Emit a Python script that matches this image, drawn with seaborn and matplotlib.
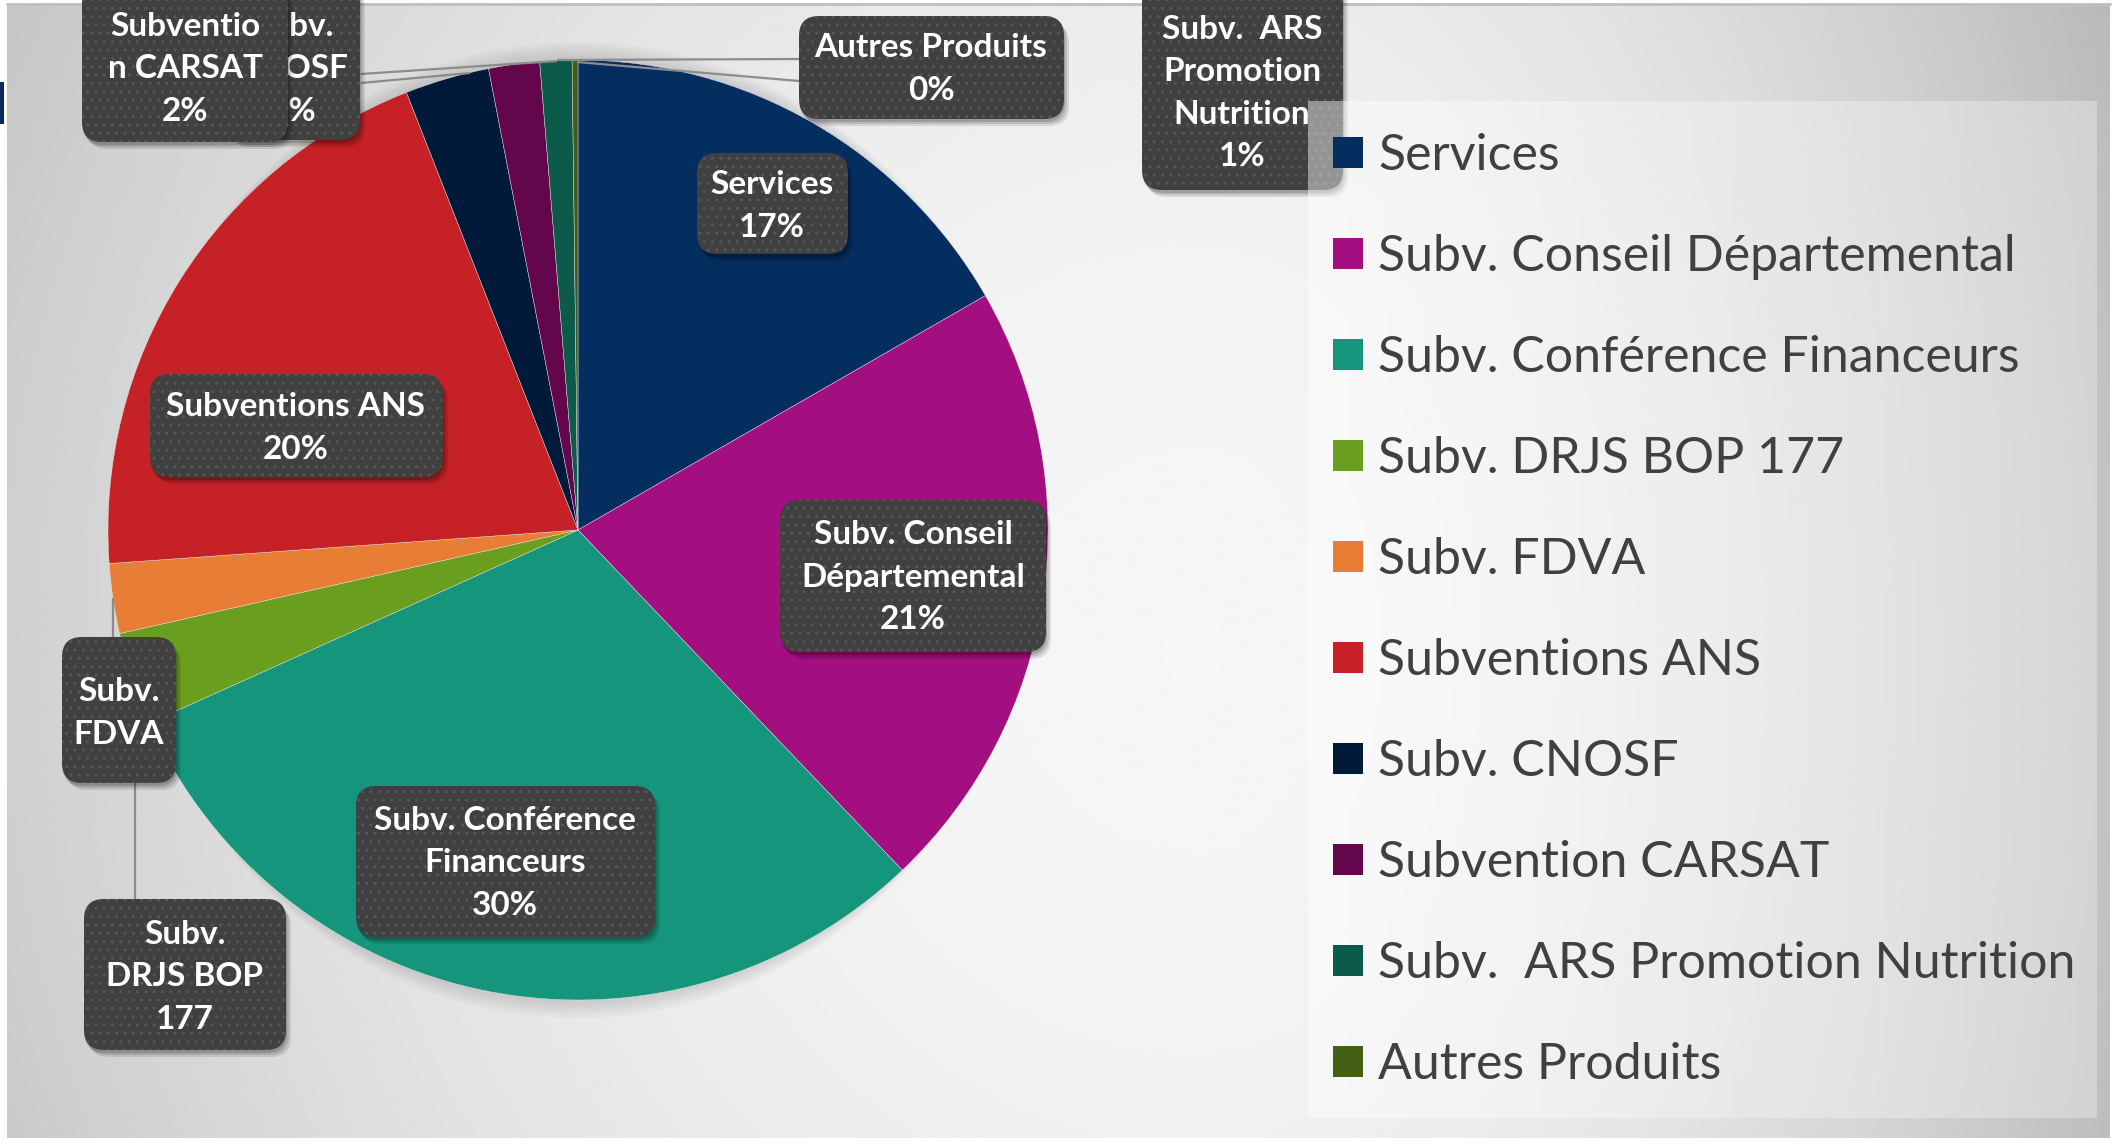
import matplotlib
matplotlib.use("Agg")
import matplotlib.pyplot as plt
import matplotlib.patches as mpatches
import seaborn as sns
import numpy as np

# --- data (share of total, %) ---
categories = [
    "Services",
    "Subv. Conseil Départemental",
    "Subv. Conférence Financeurs",
    "Subv. DRJS BOP 177",
    "Subv. FDVA",
    "Subventions ANS",
    "Subv. CNOSF",
    "Subvention CARSAT",
    "Subv.  ARS Promotion Nutrition",
    "Autres Produits",
]
shares = [16.7, 21.2, 30.4, 3.2, 2.4, 20.2, 2.9, 1.75, 1.1, 0.2]
slice_colors = ["#042D60", "#A30E80", "#15967C", "#6A9E1F", "#E87D36",
                "#C52126", "#021A3A", "#64064C", "#0C5B4A", "#425F13"]
# callout wording as it appears on the slide (some callouts lost their %)
callout_names = [
    "Services",
    "Subv. Conseil\nDépartemental",
    "Subv. Conférence\nFinanceurs",
    "Subv.\nDRJS BOP\n177",
    "Subv.\nFDVA",
    "Subventions ANS",
    "Subv.\nCNOSF",
    "Subventio\nn CARSAT",
    "Subv.  ARS\nPromotion\nNutrition",
    "Autres Produits",
]
show_pct = [True, True, True, False, False, True, True, True, True, True]

# --- layout (pixels, figure is 2116 x 1142) ---
W_PX, H_PX = 2116, 1142
PIE_CX, PIE_CY, PIE_R = 578, 530, 470
# callout boxes: x0, y0, x1, y1 (top-left origin)
callout_boxes = [
    (697, 153, 848, 254),
    (780, 500, 1046, 652),
    (356, 786, 655, 937),
    (84, 899, 286, 1050),
    (62, 637, 176, 783),
    (150, 374, 443, 477),
    (225, -20, 360, 140),
    (82, -20, 288, 142),
    (1142, -20, 1343, 190),
    (799, 16, 1064, 119),
]
callout_text_xy = [
    (772, 206), (913, 577), (505, 863), (185, 977), (119, 713),
    (296, 428), (293, 69), (185, 69), (1242, 93), (931, 69),
]
draw_order = [0, 1, 2, 5, 3, 4, 9, 8, 6, 7]
leader_lines = [
    ((361, 74), (557, 61)),
    ((361, 83), (470, 73)),
    ((799, 59), (557, 60)),
    ((799, 81), (577, 62)),
    ((113, 598), (113, 637)),
    ((135, 687), (135, 899)),
]

sns.set_theme(style="white")
plt.rcParams["font.family"] = ["Lato", "DejaVu Sans"]

fig = plt.figure(figsize=(W_PX / 100, H_PX / 100), dpi=100)
fig.patch.set_facecolor("white")

# background panel with soft grey gradient
bg = fig.add_axes([0, 0, 1, 1], zorder=0)
bg.set_xlim(0, W_PX)
bg.set_ylim(H_PX, 0)
bg.axis("off")
xs = np.linspace(7, 2110, 700)
ys = np.linspace(4, 1138, 380)
X, Y = np.meshgrid(xs, ys)
dx = X - 1200
grad = np.where(dx < 0, 0.965 - 0.15 * (dx / 1190) ** 2,
                0.965 - 0.20 * (dx / 910) ** 2)
grad = grad - 0.04 * ((Y - 650) / 650) ** 2
bg.imshow(grad, cmap="gray", vmin=0, vmax=1, extent=(7, 2110, 1138, 4),
          aspect="auto", interpolation="bilinear")
bg.plot([7, 2110], [4, 4], color="#BEBEBE", lw=2)
bg.add_patch(mpatches.Rectangle((0, 82), 4, 42, color="#0B2A5C", lw=0))
# faint soft shadow above / below the pie
for k in range(5):
    bg.add_patch(mpatches.Ellipse((PIE_CX, PIE_CY), 2 * PIE_R - 20,
                                  2 * PIE_R + 8 + 7 * k, color="black",
                                  alpha=0.025, lw=0))

# pie
pax = fig.add_axes([(PIE_CX - PIE_R) / W_PX, (H_PX - PIE_CY - PIE_R) / H_PX,
                    2 * PIE_R / W_PX, 2 * PIE_R / H_PX], zorder=1)
palette = sns.color_palette(slice_colors)
wedges, _ = pax.pie(shares, colors=palette, startangle=90, counterclock=False,
                    radius=1, wedgeprops=dict(edgecolor="#e6e6e6", linewidth=0.3))
pax.set_xlim(-1, 1)
pax.set_ylim(-1, 1)
pax.set_aspect("equal")
pax.axis("off")

# overlay: leader lines + callouts
ov = fig.add_axes([0, 0, 1, 1], zorder=2)
ov.set_xlim(0, W_PX)
ov.set_ylim(H_PX, 0)
ov.axis("off")
ov.patch.set_alpha(0)

for (p0, p1) in leader_lines:
    ov.plot([p0[0], p1[0]], [p0[1], p1[1]], color="#8C8C8C", lw=1.6,
            solid_capstyle="butt", zorder=2)

for j, i in enumerate(draw_order):
    z = 3 + j
    x0, y0, x1, y1 = callout_boxes[i]
    for k, a in enumerate([0.10, 0.12, 0.16]):
        off = 7 - 2 * k
        ov.add_patch(mpatches.FancyBboxPatch(
            (x0 + off - 2, y0 + off), x1 - x0, y1 - y0,
            boxstyle="round,pad=0,rounding_size=20",
            fc="black", ec="none", alpha=a, zorder=z))
    ov.add_patch(mpatches.FancyBboxPatch(
        (x0, y0), x1 - x0, y1 - y0, boxstyle="round,pad=0,rounding_size=20",
        fc="#404040", ec="none", zorder=z + 0.1))
    ov.add_patch(mpatches.FancyBboxPatch(
        (x0, y0), x1 - x0, y1 - y0, boxstyle="round,pad=0,rounding_size=20",
        fc="none", ec="#575757", lw=0, hatch="..", zorder=z + 0.2))
    label = callout_names[i]
    if show_pct[i]:
        label += f"\n{round(shares[i])}%"
    tx, ty = callout_text_xy[i]
    ov.text(tx, ty, label, ha="center", va="center", multialignment="center",
            color="white", fontsize=24, fontweight="bold", linespacing=1.55,
            zorder=z + 0.3)

# legend panel (semi-transparent, sits over the ARS callout)
lg_x0, lg_y0, lg_x1, lg_y1 = 1308, 101, 2097, 1118
lx = np.linspace(0, 1, 200)
ly = np.linspace(0, 1, 100)
LX, LY = np.meshgrid(lx, ly)
lgrad = 1.0 - 0.08 * LX
ov.imshow(lgrad, cmap="gray", vmin=0, vmax=1, alpha=0.45,
          extent=(lg_x0, lg_x1, lg_y1, lg_y0), aspect="auto",
          interpolation="bilinear", zorder=30)
ov.set_xlim(0, W_PX)
ov.set_ylim(H_PX, 0)

leg = fig.legend(wedges, categories, loc="upper left",
                 bbox_to_anchor=(1333 / W_PX, 1 - 133 / H_PX),
                 frameon=False, fontsize=36, labelcolor="#404040",
                 handlelength=0.6, handleheight=0.6, handletextpad=0.3,
                 labelspacing=1.1, borderpad=0, borderaxespad=0)
for h in leg.legend_handles:
    h.set_edgecolor("none")

fig.savefig("out.png", dpi=100, facecolor=fig.get_facecolor())
